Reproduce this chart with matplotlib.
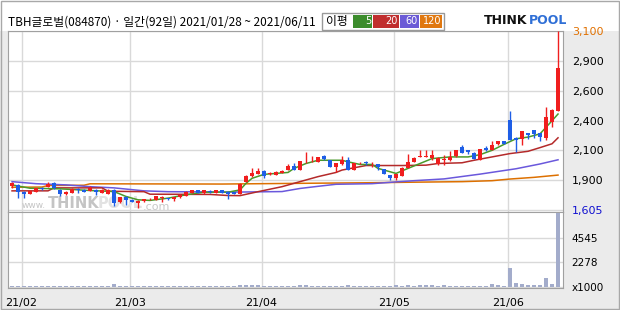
import numpy as np
import matplotlib
matplotlib.use('Agg')
import matplotlib.pyplot as plt
from matplotlib.patches import Rectangle

plt.rcParams['font.family'] = ['Noto Sans CJK KR', 'DejaVu Sans']

# daily candles 2021/01/28 ~ 2021/06/11 (92 trading days)
opens = [1809, 1815, 1759, 1740, 1759, 1785, 1801, 1828, 1773, 1740,
         1746, 1782, 1773, 1765, 1773, 1746, 1740, 1773, 1671, 1713,
         1690, 1663, 1677, 1693, 1690, 1704, 1704, 1696, 1710, 1726,
         1748, 1768, 1743, 1762, 1751, 1768, 1759, 1754, 1740, 1842,
         1889, 1906, 1933, 1904, 1897, 1917, 1939, 1975, 1939, 2011,
         2011, 2008, 2057, 2021, 1966, 1988, 2027, 1939, 1994, 2005,
         1994, 1988, 1947, 1897, 1870, 1889, 1958, 2008, 2052, 2052,
         2041, 1986, 2024, 2021, 2055, 2132, 2104, 2085, 2027, 2124,
         2110, 2154, 2181, 2358, 2209, 2201, 2248, 2275, 2248, 2206,
         2344, 2435]
closes = [1828, 1759, 1740, 1765, 1787, 1780, 1823, 1787, 1740, 1759,
          1782, 1768, 1759, 1793, 1759, 1773, 1773, 1663, 1710, 1690,
          1671, 1682, 1693, 1697, 1718, 1713, 1693, 1710, 1732, 1759,
          1768, 1746, 1768, 1757, 1768, 1746, 1740, 1740, 1823, 1892,
          1917, 1933, 1889, 1908, 1919, 1933, 1975, 1939, 2016, 2014,
          2014, 2049, 2030, 1966, 1994, 2027, 1939, 1994, 2002, 2000,
          2002, 1966, 1906, 1870, 1903, 1958, 2008, 2044, 2055, 2055,
          2063, 2044, 2027, 2049, 2104, 2082, 2090, 2035, 2112, 2104,
          2151, 2179, 2159, 2192, 2192, 2264, 2234, 2242, 2215, 2380,
          2443, 2794]
highs = [1837, 1820, 1765, 1770, 1793, 1795, 1837, 1837, 1778, 1762,
         1787, 1787, 1778, 1809, 1778, 1778, 1778, 1778, 1715, 1718,
         1693, 1685, 1696, 1704, 1721, 1718, 1707, 1713, 1735, 1762,
         1771, 1771, 1771, 1770, 1771, 1771, 1762, 1757, 1828, 1897,
         1953, 1958, 1936, 1925, 1933, 1936, 1986, 1994, 2019, 2090,
         2057, 2052, 2068, 2024, 1997, 2057, 2049, 2000, 2008, 2016,
         2005, 1991, 1950, 1900, 1906, 1961, 2077, 2047, 2104, 2110,
         2104, 2047, 2063, 2096, 2107, 2146, 2107, 2088, 2115, 2140,
         2181, 2182, 2184, 2435, 2212, 2267, 2251, 2278, 2251, 2468,
         2446, 3100]
lows = [1793, 1704, 1704, 1735, 1755, 1770, 1798, 1782, 1726, 1732,
        1743, 1746, 1755, 1762, 1732, 1743, 1735, 1635, 1665, 1649,
        1668, 1622, 1672, 1688, 1686, 1671, 1688, 1677, 1707, 1723,
        1745, 1743, 1740, 1750, 1748, 1743, 1699, 1737, 1735, 1837,
        1884, 1903, 1870, 1900, 1894, 1914, 1936, 1936, 1936, 1994,
        2005, 2005, 2027, 1963, 1925, 1985, 1936, 1936, 1991, 1980,
        1966, 1939, 1903, 1856, 1856, 1886, 1955, 2005, 2049, 2049,
        2021, 1980, 1980, 2019, 2052, 2079, 2077, 2030, 2024, 2101,
        2107, 2151, 2156, 2187, 2090, 2146, 2201, 2206, 2181, 2192,
        2297, 2430]
# volume, x1000 shares
volume = [90, 80, 90, 90, 80, 90, 90, 80, 90, 90,
          80, 90, 90, 90, 80, 90, 90, 270, 90, 90,
          80, 90, 90, 80, 90, 90, 90, 80, 90, 90,
          90, 80, 90, 90, 90, 80, 90, 90, 200, 200,
          200, 200, 90, 90, 80, 90, 90, 90, 200, 200,
          90, 90, 80, 90, 90, 90, 200, 90, 90, 80,
          90, 90, 90, 90, 150, 90, 150, 90, 150, 150,
          150, 90, 150, 90, 90, 80, 90, 90, 90, 90,
          270, 150, 90, 1790, 370, 300, 200, 200, 200, 820,
          290, 6800]

# moving averages (index, value)
ma5_x = [0, 3, 8, 13, 17, 19, 21, 23, 26, 29, 32, 36, 38, 39, 40, 42, 46, 47, 49, 51,
         55, 56, 58, 60, 61, 64, 66, 68, 70, 73, 76, 78, 80, 82, 84, 86, 88, 89, 90, 91]
ma5_y = [1815, 1787, 1782, 1768, 1759, 1718, 1690, 1685, 1704, 1732, 1754, 1754, 1773, 1828,
         1870, 1903, 1919, 1953, 1994, 2021, 2021, 2008, 1986, 1986, 1953, 1911, 1953, 1994,
         2035, 2049, 2049, 2068, 2104, 2154, 2201, 2215, 2242, 2297, 2352, 2408]
ma20_x = [0, 6, 7, 15, 16, 22, 23, 33, 36, 38, 41, 45, 47, 49, 51, 54, 55, 57, 59, 65,
          69, 71, 75, 77, 80, 83, 86, 88, 90, 91]
ma20_y = [1765, 1765, 1790, 1790, 1762, 1758, 1737, 1735, 1726, 1725, 1758, 1800, 1828, 1856,
          1884, 1919, 1939, 1958, 1977, 1977, 1980, 1994, 2000, 2021, 2049, 2077, 2096, 2127,
          2159, 2209]
ma60_x = [0, 4, 9, 13, 17, 22, 26, 38, 45, 48, 51, 54, 60, 64, 67, 72, 78, 84, 88, 91]
ma60_y = [1842, 1825, 1815, 1800, 1790, 1765, 1758, 1755, 1759, 1785, 1803, 1820, 1825, 1840,
          1850, 1865, 1905, 1950, 1990, 2025]
ma120_x = [0, 5, 6, 12, 13, 35, 48, 60, 66, 75, 80, 83, 87, 91]
ma120_y = [1795, 1797, 1810, 1812, 1824, 1822, 1828, 1833, 1837, 1842, 1850, 1864, 1878, 1897]

price_ticks = [1605, 1854, 2103, 2352, 2602, 2851, 3100]
price_labels = ['1,605', '1,900', '2,100', '2,400', '2,600', '2,900', '3,100']
vol_ticks = [0, 2272, 4545]
vol_labels = ['x1000', '2278', '4545']
month_pos = [1.6, 19.6, 41.6, 63.6, 82.6]
month_labels = ['21/02', '21/03', '21/04', '21/05', '21/06']

W, H = 620, 310
def fx(px): return px / W
def fy(py): return 1 - py / H

fig = plt.figure(figsize=(6.2, 3.1), dpi=100, facecolor='#ebebeb')
fig.add_artist(Rectangle((0, fy(31)), 1, 1 - fy(31), transform=fig.transFigure,
                         facecolor='white', edgecolor='none', zorder=0))
fig.add_artist(Rectangle((0.001, 0.002), 0.997, 0.995, transform=fig.transFigure,
                         facecolor='none', edgecolor='#a8a8a8', lw=1, zorder=5))

ax = fig.add_axes([fx(8), fy(212), fx(563) - fx(8), fy(31) - fy(212)])
axv = fig.add_axes([fx(8), fy(288), fx(563) - fx(8), fy(212) - fy(288)], sharex=ax)

RED, BLUE = '#f01e1e', '#1e5ee6'
o = np.array(opens); c = np.array(closes)
x = np.arange(len(opens))
col = np.where(c >= o, RED, BLUE)
ax.vlines(x, lows, highs, colors=col, lw=1, zorder=3)
ax.bar(x, np.maximum(np.abs(c - o), 7), bottom=np.minimum(o, c), width=0.8,
       color=col, linewidth=0, zorder=3)

ax.plot(ma120_x, ma120_y, color='#dd7000', lw=1.1, zorder=2)
ax.plot(ma60_x, ma60_y, color='#6a58dc', lw=1.1, zorder=2)
ax.plot(ma20_x, ma20_y, color='#b42a2a', lw=1.1, zorder=2)
ax.plot(ma5_x, ma5_y, color='#4a9a2a', lw=1.1, zorder=2)

ax.set_xlim(-0.67, 91.83)
ax.set_ylim(1588, 3103)
ax.set_yticks(price_ticks)
ax.set_yticklabels(price_labels, fontsize=8, family='DejaVu Sans')
ax.yaxis.tick_right()
ax.tick_params(axis='y', length=0, pad=6.5)
ax.tick_params(axis='x', length=0, labelbottom=False)
tl = ax.get_yticklabels()
tl[0].set_color('#1010d0')
tl[-1].set_color('#e07000')
ax.set_xticks(month_pos)
ax.grid(True, color='#d9d9d9', lw=1)
ax.set_axisbelow(True)
for s in ax.spines.values():
    s.set_color('#a0a0a0')

# watermark
ax.text(fx(22), fy(206), 'www.', transform=fig.transFigure, fontsize=6.5, color='#c4c4c4',
        va='center', ha='left', zorder=1, family='DejaVu Sans')
ax.text(fx(48), fy(204), 'THINK', transform=fig.transFigure, fontsize=10.5, color='#c4c4c4',
        va='center', ha='left', zorder=1, fontweight='bold', family='DejaVu Sans')
ax.text(fx(98), fy(204), 'POOL', transform=fig.transFigure, fontsize=10.5, color='#e2e2e2',
        va='center', ha='left', zorder=1, fontweight='bold', family='DejaVu Sans')
ax.text(fx(143), fy(207), '.com', transform=fig.transFigure, fontsize=8, color='#c8c8c8',
        va='center', ha='left', zorder=1, family='DejaVu Sans')

axv.bar(x, volume, width=0.8, color='#a3accb', linewidth=0, zorder=3)
axv.set_ylim(-80, 6900)
axv.set_yticks(vol_ticks)
axv.set_yticklabels(vol_labels, fontsize=7.5, family='DejaVu Sans')
axv.yaxis.tick_right()
axv.tick_params(axis='y', length=0, pad=6)
axv.set_xticks(month_pos)
axv.set_xticklabels(month_labels, fontsize=8, family='DejaVu Sans')
axv.tick_params(axis='x', length=0, pad=7)
axv.grid(True, color='#d9d9d9', lw=1)
axv.set_axisbelow(True)
for s in axv.spines.values():
    s.set_color('#a0a0a0')

# header
fig.text(fx(8), fy(22), 'TBH글로벌(084870) · 일간(92일) 2021/01/28 ~ 2021/06/11',
         fontsize=8.5, va='center', ha='left')
fig.add_artist(Rectangle((fx(322), fy(30)), fx(444) - fx(322), fy(13) - fy(30),
                         transform=fig.transFigure, facecolor='white',
                         edgecolor='#999999', lw=1))
fig.text(fx(326), fy(21.5), '이평', fontsize=8.5, va='center', ha='left')
legend_boxes = [(353, 372, '#3c8c2c', '5'), (373, 399, '#c02e2e', '20'),
                (400, 419, '#6a5ad6', '60'), (420, 442, '#e07810', '120')]
for x0, x1, bc, lab in legend_boxes:
    fig.add_artist(Rectangle((fx(x0), fy(28)), fx(x1) - fx(x0), fy(15) - fy(28),
                             transform=fig.transFigure, facecolor=bc, edgecolor='none'))
    fig.text(fx(x1 - 1), fy(21.5), lab, fontsize=7, color='white', va='center', ha='right',
             family='DejaVu Sans')

fig.text(fx(484), fy(21), 'THINK', fontsize=9, fontweight='bold', color='#111111',
         va='center', ha='left', family='DejaVu Sans')
fig.text(fx(529), fy(21), 'POOL', fontsize=9, fontweight='bold', color='#2f6fd6',
         va='center', ha='left', family='DejaVu Sans')

fig.savefig('out.png', dpi=100, facecolor=fig.get_facecolor())
